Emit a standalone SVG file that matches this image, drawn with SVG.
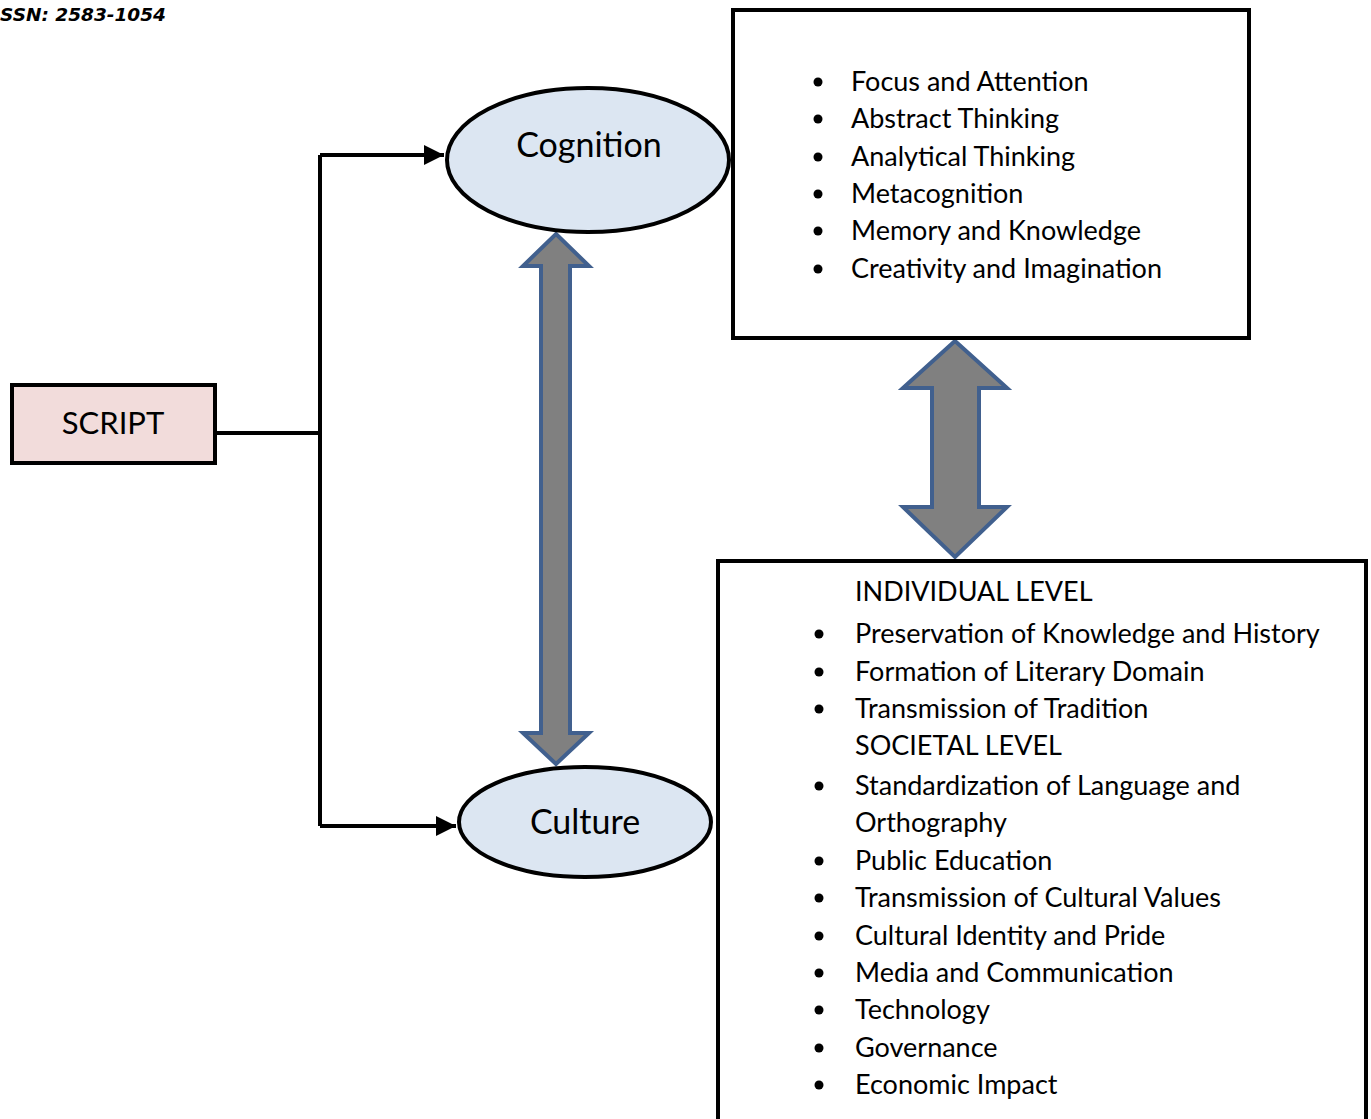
<svg xmlns="http://www.w3.org/2000/svg" width="1371" height="1119" viewBox="0 0 1371 1119">
<defs>
<style>
.t{font-family:Lato,"Open Sans","Liberation Sans",sans-serif;fill:#000}
.list{font-size:27px}
.box{fill:#fff;stroke:#000;stroke-width:4}
.ell{fill:#DCE6F2;stroke:#000;stroke-width:4}
.con{fill:none;stroke:#000;stroke-width:4}
.dbl{fill:#808080;stroke:#41608E;stroke-width:4;stroke-linejoin:miter}
</style>
<marker id="ah" viewBox="0 0 10 10" refX="10" refY="5" markerWidth="5" markerHeight="5" markerUnits="strokeWidth" orient="auto">
<path d="M0,0 L10,5 L0,10 z" fill="#000"/>
</marker>
</defs>
<rect width="1371" height="1119" fill="#fff"/>
<text x="0" y="21" font-family="DejaVu Sans,Verdana,sans-serif" font-weight="bold" font-style="italic" font-size="18" textLength="166" lengthAdjust="spacingAndGlyphs">SSN: 2583-1054</text>

<g id="connectors">
<path class="con" d="M215,433 H320"/>
<path class="con" d="M320,155 V826"/>
<path class="con" d="M320,155 H444" marker-end="url(#ah)"/>
<path class="con" d="M320,826 H456" marker-end="url(#ah)"/>
<path class="dbl" d="M556,234 L589,266 L570,266 L570,733 L589,733 L556,764 L523,733 L541,733 L541,266 L523,266 Z"/>
<path class="dbl" d="M955,341 L1007,388 L979,388 L979,507 L1007,507 L955,557 L903,507 L932,507 L932,388 L903,388 Z"/>
</g>

<g id="script">
<rect x="12" y="385" width="203" height="78" fill="#F2DCDB" stroke="#000" stroke-width="4"/>
<text class="t" x="113" y="434" font-size="31" text-anchor="middle">SCRIPT</text>
</g>

<g id="cognition">
<ellipse class="ell" cx="588" cy="160" rx="141" ry="72"/>
<text class="t" x="589" y="157" font-size="34" text-anchor="middle">Cognition</text>
</g>

<g id="culture">
<ellipse class="ell" cx="585" cy="822" rx="126" ry="55"/>
<text class="t" x="585" y="834" font-size="34" text-anchor="middle">Culture</text>
</g>

<g id="cognition-box">
<rect class="box" x="733" y="10" width="516" height="328"/>
<g class="t list">
<circle cx="818" cy="82" r="4.5"/><text x="851" y="91">Focus and Attention</text>
<circle cx="818" cy="119" r="4.5"/><text x="851" y="128">Abstract Thinking</text>
<circle cx="818" cy="157" r="4.5"/><text x="851" y="166">Analytical Thinking</text>
<circle cx="818" cy="194" r="4.5"/><text x="851" y="203">Metacognition</text>
<circle cx="818" cy="231" r="4.5"/><text x="851" y="240">Memory and Knowledge</text>
<circle cx="818" cy="269" r="4.5"/><text x="851" y="278">Creativity and Imagination</text>
</g>
</g>

<g id="culture-box">
<path class="box" d="M718,1125 V561 H1366 V1125"/>
<g class="t list">
<text x="855" y="601">INDIVIDUAL LEVEL</text>
<circle cx="819" cy="634" r="4.5"/><text x="855" y="643">Preservation of Knowledge and History</text>
<circle cx="819" cy="672" r="4.5"/><text x="855" y="681">Formation of Literary Domain</text>
<circle cx="819" cy="709" r="4.5"/><text x="855" y="718">Transmission of Tradition</text>
<text x="855" y="755">SOCIETAL LEVEL</text>
<circle cx="819" cy="786" r="4.5"/><text x="855" y="795">Standardization of Language and</text>
<text x="855" y="832">Orthography</text>
<circle cx="819" cy="861" r="4.5"/><text x="855" y="870">Public Education</text>
<circle cx="819" cy="898" r="4.5"/><text x="855" y="907">Transmission of Cultural Values</text>
<circle cx="819" cy="936" r="4.5"/><text x="855" y="945">Cultural Identity and Pride</text>
<circle cx="819" cy="973" r="4.5"/><text x="855" y="982">Media and Communication</text>
<circle cx="819" cy="1010" r="4.5"/><text x="855" y="1019">Technology</text>
<circle cx="819" cy="1048" r="4.5"/><text x="855" y="1057">Governance</text>
<circle cx="819" cy="1085" r="4.5"/><text x="855" y="1094">Economic Impact</text>
</g>
</g>
</svg>
